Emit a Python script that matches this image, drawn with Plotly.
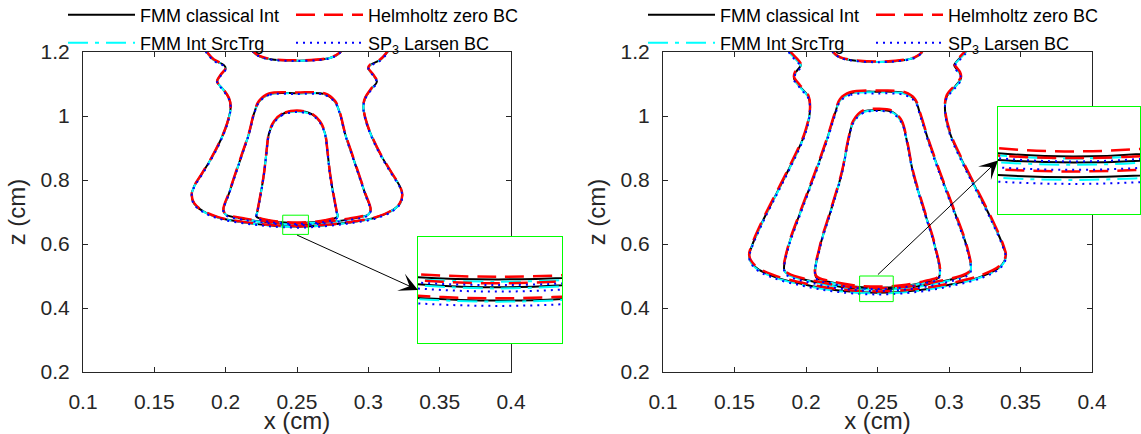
import plotly.graph_objects as go

# ---------------- data ----------------
series_names = ["FMM classical Int", "Helmholtz zero BC", "FMM Int SrcTrg", "SP<sub>3</sub> Larsen BC"]
x_ticks = [0.1, 0.15, 0.2, 0.25, 0.3, 0.35, 0.4]
x_tick_labels = ["0.1", "0.15", "0.2", "0.25", "0.3", "0.35", "0.4"]
z_ticks = [0.2, 0.4, 0.6, 0.8, 1.0, 1.2]
z_tick_labels = ["0.2", "0.4", "0.6", "0.8", "1", "1.2"]

# ---- left panel: iso-contours of the reference solution (FMM classical Int)
left_outer_x = [0.186, 0.187, 0.1918, 0.1988, 0.2000, 0.1965, 0.1940, 0.1977, 0.2023, 0.2035, 0.2011,
                0.1965, 0.1906, 0.1836, 0.1778, 0.1762, 0.1778, 0.1836, 0.1953, 0.2140, 0.2304, 0.2500,
                0.2696, 0.2860, 0.3047, 0.3164, 0.3222, 0.3238, 0.3222, 0.3164, 0.3094, 0.3035, 0.2989,
                0.2965, 0.2977, 0.3023, 0.3060, 0.3035, 0.3000, 0.3012, 0.3082, 0.3130, 0.3140]
left_outer_z = [1.205, 1.198, 1.175, 1.159, 1.149, 1.128, 1.107, 1.086, 1.055, 1.029, 0.977,
                0.925, 0.873, 0.821, 0.779, 0.753, 0.727, 0.704, 0.682, 0.667, 0.6585, 0.654,
                0.6585, 0.667, 0.682, 0.704, 0.727, 0.753, 0.779, 0.821, 0.873, 0.925, 0.977,
                1.029, 1.055, 1.086, 1.107, 1.128, 1.149, 1.159, 1.175, 1.198, 1.205]
left_middle_x = [0.2500, 0.2304, 0.2234, 0.2199, 0.2164, 0.2117, 0.2070, 0.2023, 0.1984, 0.2000, 0.2140,
                 0.2304, 0.2500, 0.2696, 0.2860, 0.3000, 0.3016, 0.2977, 0.2930, 0.2883, 0.2836, 0.2801,
                 0.2766, 0.2696, 0.2500]
left_middle_z = [1.071, 1.068, 1.045, 1.008, 0.946, 0.883, 0.821, 0.758, 0.706, 0.692, 0.677,
                 0.667, 0.6615, 0.667, 0.677, 0.692, 0.706, 0.758, 0.821, 0.883, 0.946, 1.008,
                 1.045, 1.068, 1.071]
left_inner_x = [0.2500, 0.2397, 0.2339, 0.2304, 0.2285, 0.2269, 0.2246, 0.2222, 0.2215, 0.2304, 0.2500,
                0.2696, 0.2785, 0.2778, 0.2754, 0.2731, 0.2715, 0.2696, 0.2661, 0.2603, 0.2500]
left_inner_z = [1.0156, 1.006, 0.982, 0.946, 0.883, 0.821, 0.758, 0.701, 0.686, 0.6725, 0.666,
                0.6725, 0.686, 0.701, 0.758, 0.821, 0.883, 0.946, 0.982, 1.006, 1.0156]
left_top_x = [0.2185, 0.2199, 0.2241, 0.2304, 0.2500, 0.2696, 0.2759, 0.2801, 0.2815]
left_top_z = [1.205, 1.198, 1.186, 1.178, 1.173, 1.178, 1.186, 1.198, 1.205]

# ---- right panel
right_outer_x = [0.1880, 0.1888, 0.1947, 0.1963, 0.1923, 0.1916, 0.1958, 0.2017, 0.2028, 0.1993, 0.1911,
                 0.1818, 0.1701, 0.1620, 0.1603, 0.1643, 0.1771, 0.1981, 0.2215, 0.2500, 0.2785, 0.3019,
                 0.3229, 0.3357, 0.3397, 0.3380, 0.3299, 0.3182, 0.3089, 0.3007, 0.2972, 0.2983, 0.3042,
                 0.3084, 0.3077, 0.3037, 0.3053, 0.3112, 0.3120]
right_outer_z = [1.205, 1.198, 1.170, 1.159, 1.133, 1.118, 1.092, 1.060, 1.019, 0.946, 0.8625,
                 0.779, 0.675, 0.592, 0.560, 0.529, 0.499, 0.474, 0.4555, 0.4475, 0.4555, 0.474,
                 0.499, 0.529, 0.560, 0.592, 0.675, 0.779, 0.8625, 0.946, 1.019, 1.060, 1.092,
                 1.118, 1.133, 1.159, 1.170, 1.198, 1.205]
right_middle_x = [0.2500, 0.2308, 0.2238, 0.2203, 0.2145, 0.2063, 0.1958, 0.1876, 0.1848, 0.1876, 0.2075,
                  0.2261, 0.2500, 0.2739, 0.2925, 0.3124, 0.3152, 0.3124, 0.3042, 0.2937, 0.2855, 0.2797,
                  0.2762, 0.2692, 0.2500]
right_middle_z = [1.076, 1.071, 1.050, 1.008, 0.925, 0.821, 0.696, 0.592, 0.519, 0.505, 0.480,
                  0.465, 0.4585, 0.465, 0.480, 0.505, 0.519, 0.592, 0.696, 0.821, 0.925, 1.008,
                  1.050, 1.071, 1.076]
right_inner_x = [0.2500, 0.2400, 0.2331, 0.2296, 0.2250, 0.2168, 0.2098, 0.2070, 0.2168, 0.2331, 0.2500,
                 0.2669, 0.2832, 0.2930, 0.2902, 0.2832, 0.2750, 0.2704, 0.2669, 0.2600, 0.2500]
right_inner_z = [1.019, 1.0135, 0.982, 0.925, 0.821, 0.696, 0.592, 0.497, 0.481, 0.4675, 0.463,
                 0.4675, 0.481, 0.497, 0.592, 0.696, 0.821, 0.925, 0.982, 1.0135, 1.019]
right_top_x = [0.2185, 0.2191, 0.2238, 0.2308, 0.2500, 0.2692, 0.2762, 0.2809, 0.2815]
right_top_z = [1.205, 1.198, 1.183, 1.175, 1.169, 1.175, 1.183, 1.198, 1.205]

# level shift of each method vs the reference, per contour [outer, middle, inner, top]
left_shift_classical = [0.0, 0.0, 0.0, 0.0]
left_shift_helmholtz = [0.0013, 0.0023, 0.0015, 0.001]
left_shift_srctrg = [-0.0006, -0.0006, -0.0013, 0.0]
left_shift_sp3 = [-0.0030, -0.0024, -0.0032, -0.001]
right_shift_classical = [0.0, 0.0, 0.0, 0.0]
right_shift_helmholtz = [0.0043, 0.0033, 0.0038, 0.001]
right_shift_srctrg = [-0.0020, -0.0017, -0.0015, 0.0]
right_shift_sp3 = [-0.0050, -0.0055, -0.0037, -0.001]

# zoom windows
left_zoom_x = [0.24, 0.258]
left_zoom_z = [0.63, 0.69]
right_zoom_x = [0.2375, 0.261]
right_zoom_z = [0.42, 0.50]

# ---------------- figure ----------------
FONT = "Liberation Sans, Arial, sans-serif"
AX = "#262626"
styles = [
    dict(color="black", width=2, dash="solid"),
    dict(color="red", width=2.5, dash="19px,9px"),
    dict(color="#00FFFF", width=2, dash="20px,7px,4px,7px"),
    dict(color="blue", width=2, dash="2px,5px"),
]
draw_order = [0, 2, 1, 3]
legend_of = {0: 0, 1: 0, 2: 1, 3: 1}   # row of the legend

panels = [
    dict(xs=[left_outer_x, left_middle_x, left_inner_x, left_top_x],
         zs=[left_outer_z, left_middle_z, left_inner_z, left_top_z],
         shifts=[left_shift_classical, left_shift_helmholtz, left_shift_srctrg, left_shift_sp3],
         main=("x", "y"), inset=("x3", "y3"), legends=("legend", "legend2")),
    dict(xs=[right_outer_x, right_middle_x, right_inner_x, right_top_x],
         zs=[right_outer_z, right_middle_z, right_inner_z, right_top_z],
         shifts=[right_shift_classical, right_shift_helmholtz, right_shift_srctrg, right_shift_sp3],
         main=("x2", "y2"), inset=("x4", "y4"), legends=("legend3", "legend4")),
]

fig = go.Figure()
for p in panels:
    for k in draw_order:
        X, Z = [], []
        for xs, zs, s in zip(p["xs"], p["zs"], p["shifts"][k]):
            X += list(xs) + [None]
            Z += [z + s for z in zs] + [None]
        for (xa, ya), show in ((p["main"], True), (p["inset"], False)):
            fig.add_trace(go.Scatter(
                x=X, y=Z, mode="lines", name=series_names[k], line=dict(**styles[k], shape="spline"),
                xaxis=xa, yaxis=ya, showlegend=show, legend=p["legends"][legend_of[k]],
                hoverinfo="skip", connectgaps=False))

W, H = 1141, 434
ML, MR, MT, MB = 83, 0, 52, 62
PW, PH = W - ML - MR, H - MT - MB

left_dom = [0, 428 / PW]
right_dom = [580 / PW, 1009 / PW]
left_inset_dom = ([335 / PW, 479 / PW], [29 / PH, 135 / PH])
right_inset_dom = ([915 / PW, 1057 / PW], [158 / PH, 265 / PH])

main_axis = dict(showgrid=False, zeroline=False, showline=True, mirror="ticks", linecolor=AX, linewidth=1,
                 ticks="inside", ticklen=5, tickwidth=1, tickcolor=AX,
                 tickfont=dict(size=21, color=AX, family=FONT))
xr = [0.1, 0.4]
zr = [0.2, 1.2]


def xaxis_main(dom, anchor):
    return dict(main_axis, domain=dom, range=xr, anchor=anchor, tickvals=x_ticks, ticktext=x_tick_labels,
                ticklabelstandoff=11,
                title=dict(text="x (cm)", font=dict(size=24, color=AX, family=FONT), standoff=4))


def yaxis_main(anchor):
    return dict(main_axis, domain=[0, 1], range=zr, anchor=anchor, tickvals=z_ticks, ticktext=z_tick_labels,
                ticklabelstandoff=8,
                title=dict(text="z (cm)", font=dict(size=24, color=AX, family=FONT), standoff=8))


def inset_axis(dom, rng, anchor):
    return dict(domain=dom, range=rng, anchor=anchor, showgrid=False, zeroline=False, showticklabels=False,
                ticks="", showline=True, mirror=True, linecolor="#00FF00", linewidth=1, fixedrange=True)


def legend_cfg(x, row_y):
    return dict(x=x, y=(H - MB - row_y) / PH, xref="paper", yref="paper", xanchor="left", yanchor="middle",
                orientation="h", entrywidth=146, entrywidthmode="pixels", itemwidth=67, borderwidth=0,
                bgcolor="rgba(0,0,0,0)", font=dict(size=18, color="black", family=FONT))


shapes = []
annotations = []
for (zx, zz, xa, ya, ixa, iya, main_dom, inset_dom, tail_top) in (
        (left_zoom_x, left_zoom_z, "x", "y", "x3", "y3", left_dom, left_inset_dom, False),
        (right_zoom_x, right_zoom_z, "x2", "y2", "x4", "y4", right_dom, right_inset_dom, True)):
    # opaque inset background (drawn under the inset curves, over the main plot)
    shapes.append(dict(type="rect", xref=ixa, yref=iya, x0=zx[0], x1=zx[1], y0=zz[0], y1=zz[1],
                       fillcolor="white", line=dict(width=0), layer="below"))
    # zoom window
    shapes.append(dict(type="rect", xref=xa, yref=ya, x0=zx[0], x1=zx[1], y0=zz[0], y1=zz[1],
                       line=dict(color="#00FF00", width=1), layer="above"))
    head_x = xr[0] + (inset_dom[0][0] - main_dom[0]) / (main_dom[1] - main_dom[0]) * (xr[1] - xr[0])
    head_z = zr[0] + (inset_dom[1][0] + inset_dom[1][1]) / 2 * (zr[1] - zr[0])
    annotations.append(dict(x=head_x, y=head_z, xref=xa, yref=ya,
                            ax=(zx[0] + zx[1]) / 2, ay=zz[1] if tail_top else zz[0], axref=xa, ayref=ya,
                            text="", showarrow=True, arrowhead=3, arrowsize=3.1, arrowwidth=1,
                            arrowcolor="black", standoff=0))

fig.update_layout(
    width=W, height=H,
    margin=dict(l=ML, r=MR, t=MT, b=MB, autoexpand=False),
    paper_bgcolor="white", plot_bgcolor="white",
    font=dict(family=FONT, color=AX),
    xaxis=xaxis_main(left_dom, "y"), yaxis=yaxis_main("x"),
    xaxis2=xaxis_main(right_dom, "y2"), yaxis2=yaxis_main("x2"),
    xaxis3=inset_axis(left_inset_dom[0], left_zoom_x, "y3"), yaxis3=inset_axis(left_inset_dom[1], left_zoom_z, "x3"),
    xaxis4=inset_axis(right_inset_dom[0], right_zoom_x, "y4"), yaxis4=inset_axis(right_inset_dom[1], right_zoom_z, "x4"),
    legend=legend_cfg((63 - ML) / PW, 15),
    legend2=legend_cfg((63 - ML) / PW, 43),
    legend3=legend_cfg((643 - ML) / PW, 15),
    legend4=legend_cfg((643 - ML) / PW, 43),
    shapes=shapes, annotations=annotations,
    showlegend=True,
)

# the page is shown at the window's top-left corner with no body margin
fig.write_html("out.html", config={"displayModeBar": False},
               post_script="document.body.style.margin='0';")
